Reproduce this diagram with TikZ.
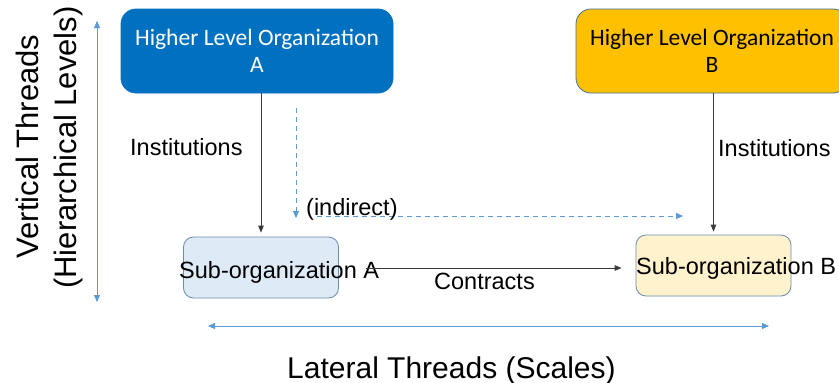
\documentclass[tikz,border=0pt]{standalone}
\usepackage{fontspec}
\setmainfont{Liberation Sans}
\newfontfamily\calib{Carlito}
\usetikzlibrary{arrows.meta}
\definecolor{orgblue}{HTML}{0070C0}
\definecolor{orgamber}{HTML}{FFC000}
\definecolor{edgeblue}{HTML}{41719C}
\definecolor{subblue}{HTML}{DEEBF7}
\definecolor{subamber}{HTML}{FFF2CC}
\definecolor{threadblue}{HTML}{5B9BD5}
\definecolor{linkgray}{HTML}{3A3A3A}
\tikzset{
  topbox/.style={draw=edgeblue, line width=0.8pt, rounded corners=15pt,
    minimum width=272pt, minimum height=84pt, inner sep=0pt, align=center,
    font=\calib\fontsize{23.5}{27}\selectfont},
  subbox/.style={draw=edgeblue!80, line width=0.8pt, rounded corners=10pt,
    minimum width=155pt, minimum height=61pt, inner sep=0pt},
  lbl/.style={inner sep=0pt, font=\fontsize{23.5}{27}\selectfont},
  biglbl/.style={inner sep=0pt, font=\fontsize{31}{36}\selectfont},
  link/.style={draw=linkgray, line width=0.8pt,
    -{Triangle[length=7pt,width=5.5pt]}},
  indirect/.style={draw=threadblue, line width=0.9pt, dash pattern=on 5pt off 4pt,
    -{Triangle[length=7pt,width=6pt]}},
  thread/.style={draw=threadblue, line width=0.9pt,
    {Triangle[length=7pt,width=6pt]}-{Triangle[length=7pt,width=6pt]}},
}
\begin{document}
\begin{tikzpicture}[x=1pt, y=-1pt]
\clip (0,0) rectangle (839,383);
\fill[white] (0,0) rectangle (839,383);

% upper level organizations
\node[topbox, fill=orgblue, draw=orgblue, text=white] (hA) at (257,51)
  {Higher Level Organization\\A};
\node[topbox, fill=orgamber] (hB) at (712,51)
  {Higher Level Organization\\B};

% sub-organizations
\node[subbox, fill=subblue] (sA) at (261,267.5) {};
\node[subbox, fill=subamber] (sB) at (713.5,265.5) {};
\node[lbl, anchor=base west] (sAt) at (179,278) {Sub-organization A};
\node[lbl, anchor=base west] (sBt) at (636,274) {Sub-organization B};

% institutional links
\draw[link, shorten >=4pt] (hA.south -| sA.north) -- (sA.north);
\draw[link, shorten >=3pt] (hB.south -| sB.north) -- (sB.north);
\node[lbl, anchor=base west] (instA) at (130,155) {Institutions};
\node[lbl, anchor=base west] (instB) at (718,156) {Institutions};

% contract link
\coordinate (cStart) at (366,268);
\draw[link, shorten >=14pt] (cStart) -- (cStart -| sB.west);
\node[lbl, anchor=base west] (contr) at (434,289) {Contracts};

% indirect influence
\coordinate (dTop) at (296,108);
\coordinate (dBot) at (296,218);
\coordinate (dLeft) at (317,216);
\coordinate (dRight) at (683,216);
\draw[indirect] (dTop) -- (dBot);
\draw[indirect] (dLeft) -- (dRight);
\node[lbl, anchor=base west] (ind) at (306,215) {(indirect)};

% thread axes
\coordinate (vTop) at (97,21);
\coordinate (vBot) at (97,302);
\coordinate (lLeft) at (208,326);
\coordinate (lRight) at (769,326);
\draw[thread] (vTop) -- (vBot);
\draw[thread] (lLeft) -- (lRight);
\node[biglbl, rotate=90, anchor=base] (vt1) at (38,146.5) {Vertical Threads};
\node[biglbl, rotate=90, anchor=base] (vt2) at (76,147.5) {(Hierarchical Levels)};
\node[biglbl, anchor=base west, font=\fontsize{30}{35}\selectfont] (lt) at (287,378) {Lateral Threads (Scales)};
\end{tikzpicture}
\end{document}
